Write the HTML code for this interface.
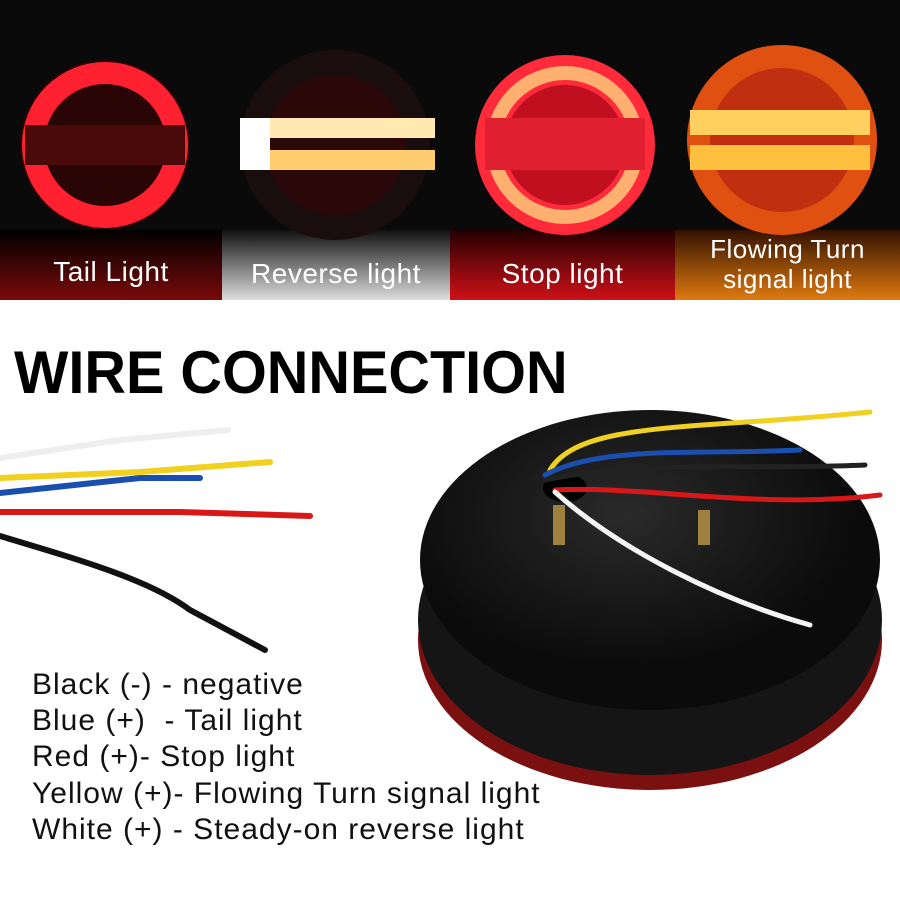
<!DOCTYPE html>
<html><head><meta charset="utf-8"><style>
body{margin:0;width:900px;height:900px;background:#fff;position:relative;overflow:hidden;font-family:"Liberation Sans",sans-serif}
.t{position:absolute;color:#fff;font-size:28px;text-align:center;letter-spacing:0.5px}
.l{position:absolute;left:32px;font-size:30px;color:#111;white-space:nowrap;letter-spacing:1px}
</style></head><body>
<svg width="900" height="900" style="position:absolute;left:0;top:0">
<defs>
<linearGradient id="b1" x1="0" y1="0" x2="0" y2="1"><stop offset="0" stop-color="#000"/><stop offset="1" stop-color="#7a0a0a"/></linearGradient>
<linearGradient id="b2" x1="0" y1="0" x2="0" y2="1"><stop offset="0" stop-color="#111"/><stop offset="1" stop-color="#ddd"/></linearGradient>
<linearGradient id="b3" x1="0" y1="0" x2="0" y2="1"><stop offset="0" stop-color="#200"/><stop offset="1" stop-color="#d01018"/></linearGradient>
<linearGradient id="b4" x1="0" y1="0" x2="0" y2="1"><stop offset="0" stop-color="#310"/><stop offset="1" stop-color="#e07a10"/></linearGradient>
<radialGradient id="disc" cx="0.45" cy="0.35"><stop offset="0" stop-color="#2a2a2a"/><stop offset="1" stop-color="#0b0b0b"/></radialGradient>
</defs>
<rect width="900" height="300" fill="#0a0a0a"/>
<rect x="0" y="230" width="222" height="70" fill="url(#b1)"/>
<rect x="222" y="230" width="228" height="70" fill="url(#b2)"/>
<rect x="450" y="230" width="225" height="70" fill="url(#b3)"/>
<rect x="675" y="230" width="225" height="70" fill="url(#b4)"/>
<circle cx="105" cy="145" r="85" fill="#2a0505"/>
<circle cx="105" cy="145" r="72" fill="none" stroke="#ff2030" stroke-width="22"/>
<rect x="25" y="125" width="160" height="40" fill="#4a0a0a"/>
<circle cx="335" cy="145" r="95" fill="#1a0d0d"/>
<circle cx="335" cy="145" r="70" fill="#2a0808"/>
<rect x="240" y="118" width="195" height="20" fill="#ffe9b0"/>
<rect x="240" y="150" width="195" height="20" fill="#ffcc70"/>
<rect x="240" y="118" width="30" height="52" fill="#fff"/>
<circle cx="565" cy="145" r="90" fill="#ff2a3a"/>
<circle cx="565" cy="145" r="72" fill="none" stroke="#ffb070" stroke-width="14"/>
<circle cx="565" cy="145" r="60" fill="#c01020"/>
<rect x="485" y="118" width="160" height="52" fill="#e02030"/>
<circle cx="782" cy="140" r="95" fill="#e05010"/>
<circle cx="782" cy="140" r="72" fill="#c03010"/>
<rect x="690" y="110" width="180" height="25" fill="#ffd060"/>
<rect x="690" y="145" width="180" height="25" fill="#ffc040"/>
<ellipse cx="650" cy="640" rx="232" ry="150" fill="#7a1010"/>
<ellipse cx="650" cy="620" rx="232" ry="155" fill="#151515"/>
<ellipse cx="650" cy="560" rx="230" ry="150" fill="url(#disc)"/>
<ellipse cx="565" cy="488" rx="22" ry="14" fill="#000"/>
<rect x="553" y="505" width="12" height="40" fill="#a08040"/>
<rect x="698" y="510" width="12" height="35" fill="#a08040"/>
<g fill="none" stroke-width="5" stroke-linecap="round">
<path d="M550 470 C580 420 700 430 870 412" stroke="#f0d020"/>
<path d="M545 475 C600 445 700 455 800 450" stroke="#1a4fb0"/>
<path d="M545 480 C640 460 760 470 865 465" stroke="#222"/>
<path d="M555 490 C640 485 760 510 880 495" stroke="#d81818"/>
<path d="M555 492 C620 550 720 600 810 625" stroke="#f4f4f4"/>
</g>
<g fill="none" stroke-width="6" stroke-linecap="round">
<path d="M0 458 L120 440 L228 430" stroke="#eee"/>
<path d="M0 478 L140 472 L270 462" stroke="#f0d020"/>
<path d="M0 493 L140 478 L200 478" stroke="#1a4fb0"/>
<path d="M0 512 L180 512 L310 516" stroke="#d81818"/>
<path d="M0 536 C80 560 150 580 190 610 L265 650" stroke="#111"/>
</g>
</svg>
<div class="t" style="left:0;width:222px;top:256px">Tail Light</div>
<div class="t" style="left:222px;width:228px;top:258px">Reverse light</div>
<div class="t" style="left:450px;width:225px;top:258px">Stop light</div>
<div class="t" style="left:675px;width:225px;top:234px;font-size:26px;line-height:30px">Flowing Turn<br>signal light</div>
<div style="position:absolute;left:14px;top:338px;font-size:60px;font-weight:900;color:#000;font-family:'Liberation Sans',sans-serif;white-space:nowrap;transform:scaleX(0.96);transform-origin:left">WIRE CONNECTION</div>
<div class="l" style="top:668px">Black (-) - negative</div>
<div class="l" style="top:704px">Blue (+)&nbsp; - Tail light</div>
<div class="l" style="top:740px">Red (+)- Stop light</div>
<div class="l" style="top:777px">Yellow (+)- Flowing Turn signal light</div>
<div class="l" style="top:813px">White (+) - Steady-on reverse light</div>
</body></html>
